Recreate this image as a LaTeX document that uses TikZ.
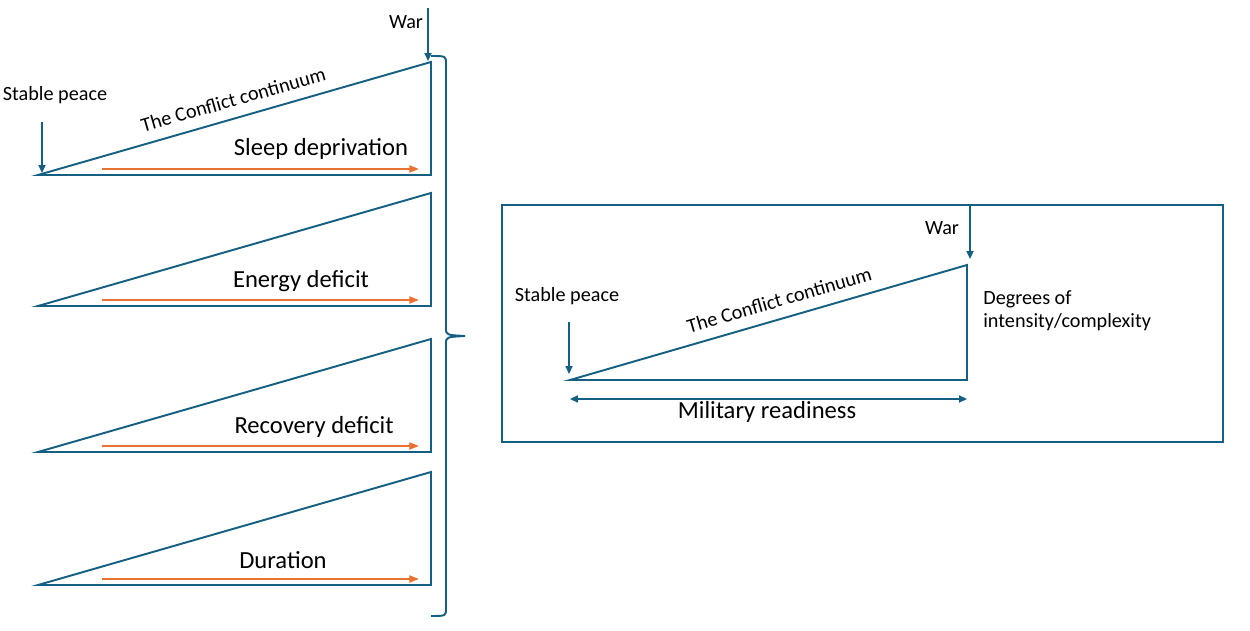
\documentclass[tikz,border=0pt]{standalone}
\usepackage{fontspec}
\setmainfont{Carlito}
\usetikzlibrary{arrows.meta}

\definecolor{lineblue}{HTML}{156082}
\definecolor{floworange}{HTML}{E97132}

\begin{document}
\begin{tikzpicture}[
  x=0.02cm,y={(0cm,-0.02cm)},
  edge/.style={lineblue,line width=1.1pt},
  pointer/.style={lineblue,line width=0.9pt,-{Triangle[length=4.5pt,width=4pt]}},
  flow/.style={floworange,line width=1.1pt,-{Triangle[length=5.5pt,width=4pt]}},
  span/.style={lineblue,line width=0.9pt,{Triangle[length=4.5pt,width=4pt]}-{Triangle[length=4.5pt,width=4pt]}},
  small/.style={font=\fontsize{11.5}{13}\selectfont,text=black,inner sep=0pt,align=left},
  big/.style={font=\fontsize{14}{16}\selectfont,text=black,inner sep=0pt}
]
\useasboundingbox (0,0) rectangle (1250,631);

% Left column - four continuum triangles
\coordinate (a1) at (38,175);  \coordinate (c1) at (431,175);  \coordinate (t1) at (431,62);
\coordinate (a2) at (38,306);  \coordinate (c2) at (431,306);  \coordinate (t2) at (431,193);
\coordinate (a3) at (38,452);  \coordinate (c3) at (431,452);  \coordinate (t3) at (431,339);
\coordinate (a4) at (38,585);  \coordinate (c4) at (431,585);  \coordinate (t4) at (431,472);

\draw[edge] (a1) -- node[small,pos=0.51,above=6pt,sloped] (cont1) {The Conflict continuum} (t1) -- (c1) -- cycle;
\draw[edge] (a2) -- (t2) -- (c2) -- cycle;
\draw[edge] (a3) -- (t3) -- (c3) -- cycle;
\draw[edge] (a4) -- (t4) -- (c4) -- cycle;

% Orange drivers
\coordinate (f1s) at (102,169); \coordinate (f1e) at (419,169);
\coordinate (f2s) at (102,300); \coordinate (f2e) at (419,300);
\coordinate (f3s) at (102,446); \coordinate (f3e) at (419,446);
\coordinate (f4s) at (102,579); \coordinate (f4e) at (419,579);
\draw[flow] (f1s) -- (f1e);
\draw[flow] (f2s) -- (f2e);
\draw[flow] (f3s) -- (f3e);
\draw[flow] (f4s) -- (f4e);
\node[big] (sleep) at (321,149) {Sleep deprivation};
\node[big] (energy) at (301,281) {Energy deficit};
\node[big] (recovery) at (314,427) {Recovery deficit};
\node[big] (duration) at (283,560) {Duration};

% End points of the first triangle
\node[small] (warL) at (406,22) {War};
\coordinate (warLs) at (428,8);  \coordinate (warLe) at (428,61);
\draw[pointer] (warLs) -- (warLe);
\node[small] (peaceL) at (55,95) {Stable peace};
\coordinate (peaceLs) at (42,122); \coordinate (peaceLe) at (42,173);
\draw[pointer] (peaceLs) -- (peaceLe);

% Brace
\draw[edge] (431,56) .. controls (446,56) .. (446,64) -- (446,328)
  .. controls (446,335) .. (465,336) .. controls (446,337) .. (446,344)
  -- (446,608) .. controls (446,616) .. (431,616);

% Right panel
\draw[lineblue,line width=0.6pt] (502,205) rectangle (1223,442);
\coordinate (ra) at (570,380); \coordinate (rc) at (967,380); \coordinate (rt) at (967,265);
\draw[edge] (ra) -- node[small,pos=0.54,above=6pt,sloped] (cont2) {The Conflict continuum} (rt) -- (rc) -- cycle;
\node[small] (warR) at (942,228) {War};
\coordinate (warRs) at (970,205); \coordinate (warRe) at (970,259);
\draw[pointer] (warRs) -- (warRe);
\node[small] (peaceR) at (567,296) {Stable peace};
\coordinate (peaceRs) at (569,322); \coordinate (peaceRe) at (569,374);
\draw[pointer] (peaceRs) -- (peaceRe);
\node[small,anchor=north west] (degrees) at (983,290) {Degrees of\\intensity/complexity};
\coordinate (ms) at (570,399); \coordinate (me) at (967,399);
\draw[span] (ms) -- (me);
\node[big] (military) at (767,412) {Military readiness};
\end{tikzpicture}
\end{document}
